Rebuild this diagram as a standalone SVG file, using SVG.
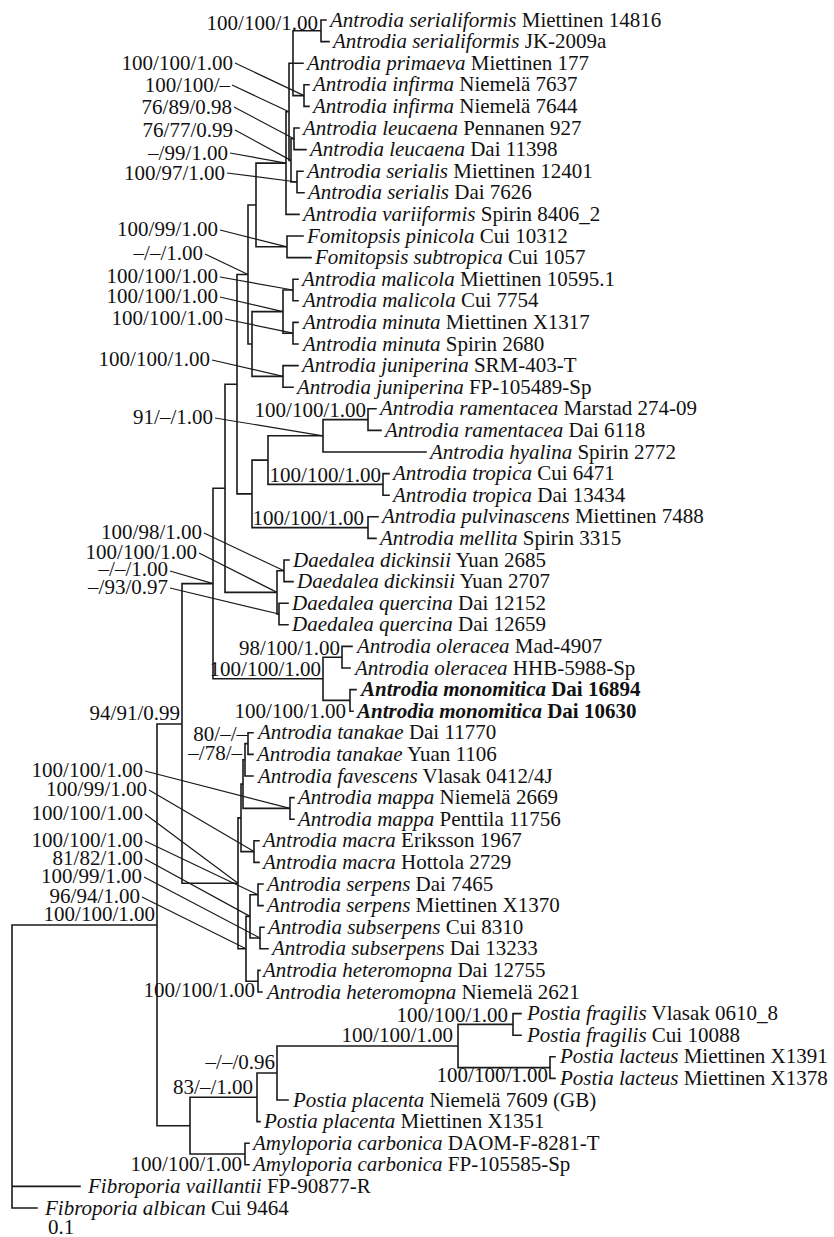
<svg xmlns="http://www.w3.org/2000/svg" width="834" height="1237" viewBox="0 0 834 1237">
<style>
.br{fill:none;stroke:#1a1a1a;stroke-width:1.6;stroke-linecap:square}
.ld{fill:none;stroke:#1a1a1a;stroke-width:1.2}
text{font-family:"Liberation Serif","Times New Roman",serif;font-size:21px;fill:#111}
.sp{font-style:italic}
.bd{font-weight:bold}
.lb{text-anchor:end}
</style>
<rect width="834" height="1237" fill="#fff"/>
<g id="connectors">
<path class="br" d="M321 20V41.6M321 20H326M321 41.6H329M293 30.8V95.6M293 30.8H321M293 63.2H303M293 95.6H304M304 84.8V106.4M304 84.8H309M304 106.4H309M294 128V149.6M294 128H299M294 149.6H306M297 171.2V192.8M297 171.2H303M297 192.8H304M291 138.8V182M291 138.8H294M291 182H297M289 63.2V160.4M289 63.2H293M289 160.4H291M286 111.8V214.4M286 111.8H289M286 214.4H299M287 236V257.6M287 236H303M287 257.6H311M256 163.1V246.8M256 163.1H286M256 246.8H287M293 279.2V300.8M293 279.2H298M293 300.8H298M293 322.4V344M293 322.4H298M293 344H298M283 290V333.2M283 290H293M283 333.2H293M283 365.6V387.2M283 365.6H298M283 387.2H293M252 311.6V376.4M252 311.6H283M252 376.4H283M248 205V344M248 205H256M248 344H252M368 408.8V430.4M368 408.8H376M368 430.4H381M323 419.6V452M323 419.6H368M323 452H426M383 473.6V495.2M383 473.6H389M383 495.2H389M268 435.8V484.4M268 435.8H323M268 484.4H383M368 516.8V538.4M368 516.8H378M368 538.4H376M252 460.1V527.6M252 460.1H268M252 527.6H368M237 274.5V493.9M237 274.5H248M237 493.9H252M284 560V581.6M284 560H289M284 581.6H293M279 603.2V624.8M279 603.2H288M279 624.8H288M277 570.8V614M277 570.8H284M277 614H279M225 384.2V592.4M225 384.2H237M225 592.4H277M342 646.4V668M342 646.4H352M342 668H350M350 689.6V711.2M350 689.6H356M350 711.2H353M323 657.2V700.4M323 657.2H342M323 700.4H350M213 488.3V678.8M213 488.3H225M213 678.8H323M248 732.8V754.4M248 732.8H253M248 754.4H253M245 743.6V776M245 743.6H248M245 776H253M290 797.6V819.2M290 797.6H294M290 819.2H294M243 759.8V808.4M243 759.8H245M243 808.4H290M254 840.8V862.4M254 840.8H259M254 862.4H259M241 784.1V851.6M241 784.1H243M241 851.6H254M258 884V905.6M258 884H263M258 905.6H263M260 927.2V948.8M260 927.2H264M260 948.8H268M250 894.8V938M250 894.8H258M250 938H260M258 970.4V992M258 970.4H260M258 992H262M246 916.4V981.2M246 916.4H250M246 981.2H258M238 817.9V948.8M238 817.9H241M238 948.8H246M182 583.6V883.3M182 583.6H213M182 883.3H238M157 724V1125.7M157 724H182M157 1125.7H190M513 1013.6V1035.2M513 1013.6H521M513 1035.2H521M550 1056.8V1078.4M550 1056.8H555M550 1078.4H555M458 1024.4V1067.6M458 1024.4H513M458 1067.6H550M277 1046V1100M277 1046H458M277 1100H288M257 1073V1121.6M257 1073H277M257 1121.6H260M245 1143.2V1164.8M245 1143.2H249M245 1164.8H249M190 1097.3V1154M190 1097.3H257M190 1154H245M12 925V1208M12 925H157M12 1186.4H80M12 1208H37"/>
<path class="ld" d="M235 63L304 95.6M232 85L289 111.8M234 107L294 138.8M235 130L291 160.4M230 153L286 163.1M227 173L297 182M220 230L287 246.8M205 254L248 274.5M220 277L293 290M220 297L283 311.6M225 319L293 333.2M212 360L283 376.4M215 418L323 435.8M204 533L284 570.8M199 553L277 592.4M170 571L213 583.6M170 588L279 614M145 771L290 808.4M149 790L254 851.6M145 814L238 883.3M145 841L258 894.8M145 859L250 916.4M144 877L260 938M142 897L246 948.8"/>
</g>
<g id="taxa">
<g id="t01"><text x="330" y="26.5"><tspan class="sp">Antrodia serialiformis</tspan> Miettinen 14816</text></g>
<g id="t02"><text x="333" y="48.1"><tspan class="sp">Antrodia serialiformis</tspan> JK-2009a</text></g>
<g id="t03"><text x="307" y="69.7"><tspan class="sp">Antrodia primaeva</tspan> Miettinen 177</text></g>
<g id="t04"><text x="313" y="91.3"><tspan class="sp">Antrodia infirma</tspan> Niemelä 7637</text></g>
<g id="t05"><text x="313" y="112.9"><tspan class="sp">Antrodia infirma</tspan> Niemelä 7644</text></g>
<g id="t06"><text x="303" y="134.5"><tspan class="sp">Antrodia leucaena</tspan> Pennanen 927</text></g>
<g id="t07"><text x="310" y="156.1"><tspan class="sp">Antrodia leucaena</tspan> Dai 11398</text></g>
<g id="t08"><text x="307" y="177.7"><tspan class="sp">Antrodia serialis</tspan> Miettinen 12401</text></g>
<g id="t09"><text x="308" y="199.3"><tspan class="sp">Antrodia serialis</tspan> Dai 7626</text></g>
<g id="t10"><text x="303" y="220.9"><tspan class="sp">Antrodia variiformis</tspan> Spirin 8406_2</text></g>
<g id="t11"><text x="307" y="242.5"><tspan class="sp">Fomitopsis pinicola</tspan> Cui 10312</text></g>
<g id="t12"><text x="315" y="264.1"><tspan class="sp">Fomitopsis subtropica</tspan> Cui 1057</text></g>
<g id="t13"><text x="302" y="285.7"><tspan class="sp">Antrodia malicola</tspan> Miettinen 10595.1</text></g>
<g id="t14"><text x="303" y="307.3"><tspan class="sp">Antrodia malicola</tspan> Cui 7754</text></g>
<g id="t15"><text x="303" y="328.9"><tspan class="sp">Antrodia minuta</tspan> Miettinen X1317</text></g>
<g id="t16"><text x="303" y="350.5"><tspan class="sp">Antrodia minuta</tspan> Spirin 2680</text></g>
<g id="t17"><text x="302" y="372.1"><tspan class="sp">Antrodia juniperina</tspan> SRM-403-T</text></g>
<g id="t18"><text x="297" y="393.7"><tspan class="sp">Antrodia juniperina</tspan> FP-105489-Sp</text></g>
<g id="t19"><text x="380" y="415.3"><tspan class="sp">Antrodia ramentacea</tspan> Marstad 274-09</text></g>
<g id="t20"><text x="385" y="436.9"><tspan class="sp">Antrodia ramentacea</tspan> Dai 6118</text></g>
<g id="t21"><text x="430" y="458.5"><tspan class="sp">Antrodia hyalina</tspan> Spirin 2772</text></g>
<g id="t22"><text x="393" y="480.1"><tspan class="sp">Antrodia tropica</tspan> Cui 6471</text></g>
<g id="t23"><text x="393" y="501.7"><tspan class="sp">Antrodia tropica</tspan> Dai 13434</text></g>
<g id="t24"><text x="382" y="523.3"><tspan class="sp">Antrodia pulvinascens</tspan> Miettinen 7488</text></g>
<g id="t25"><text x="380" y="544.9"><tspan class="sp">Antrodia mellita</tspan> Spirin 3315</text></g>
<g id="t26"><text x="293" y="566.5"><tspan class="sp">Daedalea dickinsii</tspan> Yuan 2685</text></g>
<g id="t27"><text x="297" y="588.1"><tspan class="sp">Daedalea dickinsii</tspan> Yuan 2707</text></g>
<g id="t28"><text x="292" y="609.7"><tspan class="sp">Daedalea quercina</tspan> Dai 12152</text></g>
<g id="t29"><text x="292" y="631.3"><tspan class="sp">Daedalea quercina</tspan> Dai 12659</text></g>
<g id="t30"><text x="357" y="652.9"><tspan class="sp">Antrodia oleracea</tspan> Mad-4907</text></g>
<g id="t31"><text x="355" y="674.5"><tspan class="sp">Antrodia oleracea</tspan> HHB-5988-Sp</text></g>
<g id="t32"><text x="361" y="696.1" class="bd"><tspan class="sp">Antrodia monomitica</tspan> Dai 16894</text></g>
<g id="t33"><text x="357" y="717.7" class="bd"><tspan class="sp">Antrodia monomitica</tspan> Dai 10630</text></g>
<g id="t34"><text x="258" y="739.3"><tspan class="sp">Antrodia tanakae</tspan> Dai 11770</text></g>
<g id="t35"><text x="257" y="760.9"><tspan class="sp">Antrodia tanakae</tspan> Yuan 1106</text></g>
<g id="t36"><text x="258" y="782.5"><tspan class="sp">Antrodia favescens</tspan> Vlasak 0412/4J</text></g>
<g id="t37"><text x="298" y="804.1"><tspan class="sp">Antrodia mappa</tspan> Niemelä 2669</text></g>
<g id="t38"><text x="298" y="825.7"><tspan class="sp">Antrodia mappa</tspan> Penttila 11756</text></g>
<g id="t39"><text x="263" y="847.3"><tspan class="sp">Antrodia macra</tspan> Eriksson 1967</text></g>
<g id="t40"><text x="263" y="868.9"><tspan class="sp">Antrodia macra</tspan> Hottola 2729</text></g>
<g id="t41"><text x="267" y="890.5"><tspan class="sp">Antrodia serpens</tspan> Dai 7465</text></g>
<g id="t42"><text x="267" y="912.1"><tspan class="sp">Antrodia serpens</tspan> Miettinen X1370</text></g>
<g id="t43"><text x="268" y="933.7"><tspan class="sp">Antrodia subserpens</tspan> Cui 8310</text></g>
<g id="t44"><text x="272" y="955.3"><tspan class="sp">Antrodia subserpens</tspan> Dai 13233</text></g>
<g id="t45"><text x="263" y="976.9"><tspan class="sp">Antrodia heteromopna</tspan> Dai 12755</text></g>
<g id="t46"><text x="267" y="998.5"><tspan class="sp">Antrodia heteromopna</tspan> Niemelä 2621</text></g>
<g id="t47"><text x="527" y="1020.1"><tspan class="sp">Postia fragilis</tspan> Vlasak 0610_8</text></g>
<g id="t48"><text x="527" y="1041.7"><tspan class="sp">Postia fragilis</tspan> Cui 10088</text></g>
<g id="t49"><text x="560" y="1063.3"><tspan class="sp">Postia lacteus</tspan> Miettinen X1391</text></g>
<g id="t50"><text x="560" y="1084.9"><tspan class="sp">Postia lacteus</tspan> Miettinen X1378</text></g>
<g id="t51"><text x="293" y="1106.5"><tspan class="sp">Postia placenta</tspan> Niemelä 7609 (GB)</text></g>
<g id="t52"><text x="264" y="1128.1"><tspan class="sp">Postia placenta</tspan> Miettinen X1351</text></g>
<g id="t53"><text x="253" y="1149.7"><tspan class="sp">Amyloporia carbonica</tspan> DAOM-F-8281-T</text></g>
<g id="t54"><text x="253" y="1171.3"><tspan class="sp">Amyloporia carbonica</tspan> FP-105585-Sp</text></g>
<g id="t55"><text x="88" y="1192.9"><tspan class="sp">Fibroporia vaillantii</tspan> FP-90877-R</text></g>
<g id="t56"><text x="45" y="1214.5"><tspan class="sp">Fibroporia albican</tspan> Cui 9464</text></g>
</g>
<g id="supports">
<g id="s01"><text class="lb" x="318" y="30">100/100/1.00</text></g>
<g id="s02"><text class="lb" x="233" y="70">100/100/1.00</text></g>
<g id="s03"><text class="lb" x="230" y="92">100/100/–</text></g>
<g id="s04"><text class="lb" x="232" y="114">76/89/0.98</text></g>
<g id="s05"><text class="lb" x="233" y="137">76/77/0.99</text></g>
<g id="s06"><text class="lb" x="228" y="160">–/99/1.00</text></g>
<g id="s07"><text class="lb" x="225" y="180">100/97/1.00</text></g>
<g id="s08"><text class="lb" x="218" y="236">100/99/1.00</text></g>
<g id="s09"><text class="lb" x="203" y="260">–/–/1.00</text></g>
<g id="s10"><text class="lb" x="218" y="283">100/100/1.00</text></g>
<g id="s11"><text class="lb" x="218" y="303">100/100/1.00</text></g>
<g id="s12"><text class="lb" x="223" y="325">100/100/1.00</text></g>
<g id="s13"><text class="lb" x="210" y="366">100/100/1.00</text></g>
<g id="s14"><text class="lb" x="366" y="417">100/100/1.00</text></g>
<g id="s15"><text class="lb" x="213" y="424">91/–/1.00</text></g>
<g id="s16"><text class="lb" x="381" y="482">100/100/1.00</text></g>
<g id="s17"><text class="lb" x="364" y="525">100/100/1.00</text></g>
<g id="s18"><text class="lb" x="202" y="539">100/98/1.00</text></g>
<g id="s19"><text class="lb" x="197" y="559">100/100/1.00</text></g>
<g id="s20"><text class="lb" x="168" y="576">–/–/1.00</text></g>
<g id="s21"><text class="lb" x="168" y="594">–/93/0.97</text></g>
<g id="s22"><text class="lb" x="340" y="655">98/100/1.00</text></g>
<g id="s23"><text class="lb" x="321" y="676">100/100/1.00</text></g>
<g id="s24"><text class="lb" x="346" y="718">100/100/1.00</text></g>
<g id="s25"><text class="lb" x="180" y="720">94/91/0.99</text></g>
<g id="s26"><text class="lb" x="247" y="741">80/–/–</text></g>
<g id="s27"><text class="lb" x="242" y="760">–/78/–</text></g>
<g id="s28"><text class="lb" x="143" y="777">100/100/1.00</text></g>
<g id="s29"><text class="lb" x="147" y="796">100/99/1.00</text></g>
<g id="s30"><text class="lb" x="143" y="820">100/100/1.00</text></g>
<g id="s31"><text class="lb" x="143" y="847">100/100/1.00</text></g>
<g id="s32"><text class="lb" x="143" y="865">81/82/1.00</text></g>
<g id="s33"><text class="lb" x="142" y="883">100/99/1.00</text></g>
<g id="s34"><text class="lb" x="140" y="903">96/94/1.00</text></g>
<g id="s35"><text class="lb" x="155" y="921">100/100/1.00</text></g>
<g id="s36"><text class="lb" x="255" y="997">100/100/1.00</text></g>
<g id="s37"><text class="lb" x="508" y="1022">100/100/1.00</text></g>
<g id="s38"><text class="lb" x="453" y="1042">100/100/1.00</text></g>
<g id="s39"><text class="lb" x="548" y="1082">100/100/1.00</text></g>
<g id="s40"><text class="lb" x="275" y="1069">–/–/0.96</text></g>
<g id="s41"><text class="lb" x="253" y="1094">83/–/1.00</text></g>
<g id="s42"><text class="lb" x="242" y="1171">100/100/1.00</text></g>
</g>
<g id="scale"><text x="48" y="1234">0.1</text></g>
</svg>
